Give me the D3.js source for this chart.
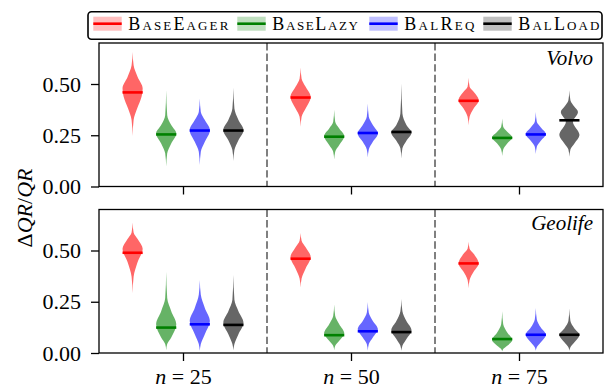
<!doctype html>
<html>
<head>
<meta charset="utf-8"/>
<style>
    html, body { margin: 0; padding: 0; background: #fff; }
    svg { display: block; }
    .axis path, .axis line { stroke: #000; stroke-width: 1.3px; }
</style>
<script src="https://cdn.jsdelivr.net/npm/d3@7"></script>
</head>
<body>
<svg width="613" height="389"></svg>
<script>
    var groups = ["25", "50", "75"];
    var methods = ["BaseEager", "BaseLazy", "BalReq", "BalLoad"];
    var datasets = ["Volvo", "Geolife"];
    var yTicks = [0, 0.25, 0.5];

    // medians per group (n = 25, 50, 75), per method
    var volvoMedians = [[0.459, 0.254, 0.273, 0.273], [0.434, 0.243, 0.261, 0.266], [0.418, 0.237, 0.254, 0.323]];
    var geolifeMedians = [[0.489, 0.124, 0.140, 0.137], [0.460, 0.087, 0.106, 0.102], [0.437, 0.068, 0.089, 0.089]];

    // violin outlines: [value, relative width], top tip to bottom tip
    var volvoShapes = [
        [
            [[0.656, 0], [0.591, 0.1], [0.534, 0.5], [0.478, 1], [0.44, 0.9], [0.38, 0.45], [0.324, 0.1], [0.246, 0]],
            [[0.470, 0], [0.348, 0.1], [0.300, 0.5], [0.259, 1], [0.210, 0.5], [0.162, 0.1], [0.097, 0]],
            [[0.429, 0], [0.364, 0.1], [0.324, 0.5], [0.275, 1], [0.218, 0.5], [0.170, 0.1], [0.105, 0]],
            [[0.482, 0], [0.380, 0.1], [0.324, 0.5], [0.275, 1], [0.226, 0.5], [0.178, 0.1], [0.124, 0]]
        ],
        [
            [[0.580, 0], [0.526, 0.1], [0.486, 0.5], [0.437, 1], [0.380, 0.5], [0.340, 0.1], [0.291, 0]],
            [[0.375, 0], [0.316, 0.1], [0.283, 0.5], [0.246, 1], [0.202, 0.5], [0.170, 0.1], [0.132, 0]],
            [[0.405, 0], [0.340, 0.1], [0.300, 0.5], [0.259, 1], [0.218, 0.5], [0.181, 0.1], [0.142, 0]],
            [[0.502, 0], [0.356, 0.1], [0.300, 0.5], [0.262, 1], [0.223, 0.5], [0.186, 0.1], [0.137, 0]]
        ],
        [
            [[0.531, 0], [0.486, 0.1], [0.462, 0.5], [0.421, 1], [0.380, 0.5], [0.340, 0.1], [0.299, 0]],
            [[0.332, 0], [0.291, 0.1], [0.267, 0.5], [0.239, 1], [0.210, 0.5], [0.181, 0.1], [0.149, 0]],
            [[0.364, 0], [0.316, 0.1], [0.288, 0.5], [0.256, 1], [0.223, 0.5], [0.194, 0.1], [0.158, 0]],
            [[0.470, 0], [0.421, 0.1], [0.389, 0.5], [0.364, 0.85], [0.316, 0.35], [0.251, 1], [0.210, 0.5], [0.181, 0.1], [0.145, 0]]
        ]
    ];
    var geolifeShapes = [
        [
            [[0.636, 0], [0.588, 0.1], [0.556, 0.5], [0.508, 1], [0.444, 0.5], [0.372, 0.1], [0.292, 0]],
            [[0.396, 0], [0.268, 0.1], [0.204, 0.5], [0.140, 1], [0.076, 0.5], [0.044, 0.1], [0.014, 0]],
            [[0.356, 0], [0.284, 0.1], [0.220, 0.5], [0.156, 1], [0.092, 0.5], [0.044, 0.1], [0.011, 0]],
            [[0.380, 0], [0.260, 0.1], [0.204, 0.5], [0.148, 1], [0.092, 0.5], [0.044, 0.1], [0.014, 0]]
        ],
        [
            [[0.585, 0], [0.548, 0.1], [0.516, 0.5], [0.468, 1], [0.412, 0.5], [0.364, 0.1], [0.319, 0]],
            [[0.236, 0], [0.180, 0.1], [0.140, 0.5], [0.095, 1], [0.060, 0.5], [0.035, 0.1], [0.014, 0]],
            [[0.249, 0], [0.196, 0.1], [0.156, 0.5], [0.116, 1], [0.076, 0.5], [0.044, 0.1], [0.011, 0]],
            [[0.264, 0], [0.204, 0.1], [0.156, 0.5], [0.111, 1], [0.068, 0.5], [0.035, 0.1], [0.011, 0]]
        ],
        [
            [[0.543, 0], [0.508, 0.1], [0.484, 0.5], [0.436, 1], [0.396, 0.5], [0.356, 0.1], [0.316, 0]],
            [[0.204, 0], [0.140, 0.1], [0.100, 0.5], [0.063, 1], [0.035, 0.5], [0.019, 0.1], [0.008, 0]],
            [[0.220, 0], [0.164, 0.1], [0.124, 0.5], [0.089, 1], [0.052, 0.5], [0.028, 0.1], [0.011, 0]],
            [[0.217, 0], [0.156, 0.1], [0.120, 0.5], [0.089, 1], [0.052, 0.5], [0.028, 0.1], [0.011, 0]]
        ]
    ];

    var FONT = "'Liberation Serif', serif";
    var COLORS = ["#ff0000", "#008000", "#0000ff", "#000000"];
    var OFFSETS = [-0.3, -0.1, 0.1, 0.3];
    var HALF_W = 0.06;

    var svg = d3.select("svg");
    var left = 99, right = 603;
    var panels = [
        {name: datasets[0], top: 43, bottom: 186.5, medians: volvoMedians, shapes: volvoShapes},
        {name: datasets[1], top: 209.5, bottom: 353, medians: geolifeMedians, shapes: geolifeShapes}
    ];

    var x = d3.scaleLinear().domain([-0.5, 2.5]).range([left, right]);

    panels.forEach(function(p, pi) {
        var y = d3.scaleLinear().domain([0, 0.7]).range([p.bottom, p.top]);
        var g = svg.append("g");

        // group separators
        [0.5, 1.5].forEach(function(s) {
            g.append("line")
                .attr("x1", x(s)).attr("x2", x(s))
                .attr("y1", p.top).attr("y2", p.bottom)
                .attr("stroke", "#808080")
                .attr("stroke-width", 2)
                .attr("stroke-dasharray", "7.4,3.2");
        });

        p.shapes.forEach(function(groupShapes, gi) {
            groupShapes.forEach(function(shape, mi) {
                var area = d3.area()
                    .y(function(d) { return y(d[0]); })
                    .x0(function(d) { return x(gi + OFFSETS[mi] - d[1] * HALF_W); })
                    .x1(function(d) { return x(gi + OFFSETS[mi] + d[1] * HALF_W); })
                    .curve(d3.curveMonotoneY);
                g.append("path")
                    .attr("d", area(shape))
                    .attr("fill", COLORS[mi])
                    .attr("fill-opacity", 0.6);
                var m = p.medians[gi][mi];
                g.append("line")
                    .attr("x1", x(gi + OFFSETS[mi] - HALF_W))
                    .attr("x2", x(gi + OFFSETS[mi] + HALF_W))
                    .attr("y1", y(m)).attr("y2", y(m))
                    .attr("stroke", COLORS[mi])
                    .attr("stroke-width", 2.6);
            });
        });

        // frame
        g.append("rect")
            .attr("x", left).attr("y", p.top)
            .attr("width", right - left).attr("height", p.bottom - p.top)
            .attr("fill", "none").attr("stroke", "#000").attr("stroke-width", 1.3);

        var yAxis = g.append("g").attr("class", "axis")
            .attr("transform", "translate(" + left + ",0)")
            .call(d3.axisLeft(y).tickValues(yTicks).tickFormat(d3.format(".2f")).tickSize(8).tickPadding(10));
        yAxis.select(".domain").remove();
        yAxis.selectAll("text")
            .style("font-family", FONT)
            .style("font-size", "22px")
            .attr("fill", "#000");

        var xAxis = g.append("g").attr("class", "axis")
            .attr("transform", "translate(0," + p.bottom + ")")
            .call(d3.axisBottom(x).tickValues([0, 1, 2]).tickSize(8).tickFormat(""));
        xAxis.select(".domain").remove();
        if (pi === 1) {
            xAxis.selectAll(".tick").append("text")
                .attr("y", 31)
                .attr("text-anchor", "middle")
                .style("font-family", FONT)
                .style("font-size", "22px")
                .attr("fill", "#000")
                .each(function(d) {
                    var t = d3.select(this);
                    t.append("tspan").style("font-style", "italic").text("n");
                    t.append("tspan").text(" = " + groups[d]);
                });
        }

        g.append("text")
            .attr("x", 593).attr("y", p.top + (pi === 0 ? 22 : 20.5))
            .attr("text-anchor", "end")
            .style("font-family", FONT)
            .style("font-style", "italic")
            .style("font-size", "21px")
            .text(p.name);
    });

    // y label
    var yl = svg.append("text")
        .attr("transform", "translate(32,208) rotate(-90)")
        .attr("text-anchor", "middle")
        .style("font-family", FONT)
        .style("font-size", "22px");
    yl.append("tspan").text("\u0394");
    yl.append("tspan").style("font-style", "italic").text("QR");
    yl.append("tspan").text("/");
    yl.append("tspan").style("font-style", "italic").text("QR");

    // legend
    var legend = svg.append("g");
    legend.append("rect")
        .attr("x", 88).attr("y", 11.7).attr("width", 514).attr("height", 27.6)
        .attr("rx", 3.5)
        .attr("fill", "#fff").attr("stroke", "#000").attr("stroke-width", 1.6);
    var legendX = [93.3, 237.3, 369.3, 483.3];
    var legendTextW = [100, 85.6, 70, 81];
    methods.forEach(function(m, i) {
        var lx = legendX[i];
        legend.append("rect")
            .attr("x", lx).attr("y", 16.7).attr("width", 28.4).attr("height", 14)
            .attr("fill", COLORS[i]).attr("fill-opacity", 0.25);
        legend.append("line")
            .attr("x1", lx).attr("x2", lx + 28.4)
            .attr("y1", 23.7).attr("y2", 23.7)
            .attr("stroke", COLORS[i]).attr("stroke-width", 2.6);
        legend.append("text")
            .attr("x", lx + 35).attr("y", 30)
            .attr("textLength", legendTextW[i])
            .attr("lengthAdjust", "spacing")
            .style("font-family", FONT)
            .style("font-size", "18px")
            .style("font-variant", "small-caps")
            .text(m);
    });
</script>
</body>
</html>
